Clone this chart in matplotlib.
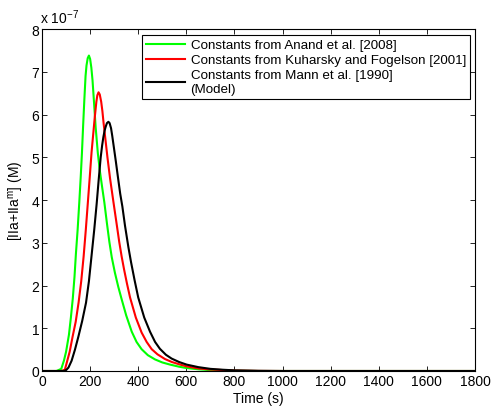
#!/usr/bin/env python3
"""Thrombin concentration time courses for three rate-constant sets."""

import matplotlib

matplotlib.use("Agg")
import matplotlib.pyplot as plt
from matplotlib.ticker import FuncFormatter

plt.rcParams["font.family"] = ["Liberation Sans", "DejaVu Sans"]
plt.rcParams["mathtext.fontset"] = "custom"
plt.rcParams["mathtext.rm"] = "Liberation Sans"
plt.rcParams["mathtext.it"] = "Liberation Sans:italic"

# values, concentration in units of 1e-7 M
anand_t = [0, 60, 80, 91, 100, 112, 120, 128, 135, 141, 148, 155, 161, 166, 171, 176,
           181, 185, 190, 195, 200, 205, 210, 216, 223, 232, 240, 250, 259, 270, 280,
           290, 303, 317, 331, 350, 373, 393, 414, 440, 470, 500, 532, 570, 600, 650,
           700, 800, 900, 1800]
anand_v = [0, 0, 0.05, 0.24, 0.45, 0.85, 1.25, 1.7, 2.2, 2.75, 3.3, 3.95, 4.55, 5.1,
           5.75, 6.35, 6.9, 7.15, 7.32, 7.38, 7.3, 7.1, 6.8, 6.3, 5.7, 5.1, 4.7, 4.3,
           3.95, 3.45, 3.02, 2.66, 2.3, 1.97, 1.68, 1.3, 0.92, 0.68, 0.51, 0.37, 0.27,
           0.2, 0.15, 0.1, 0.07, 0.04, 0.02, 0.005, 0, 0]

kuharsky_t = [0, 80, 95, 105, 115, 127, 140, 152, 163, 173, 182, 190, 198, 206, 213,
              219, 226, 230, 235, 240, 246, 251, 256, 264, 272, 283, 297, 310, 321,
              331, 341, 353, 366, 390, 414, 435, 456, 480, 511, 540, 574, 600, 650,
              700, 800, 900, 1000, 1800]
kuharsky_v = [0, 0, 0.03, 0.24, 0.45, 0.8, 1.15, 1.6, 2.1, 2.68, 3.3, 3.9, 4.5, 5.12,
              5.55, 5.92, 6.3, 6.45, 6.52, 6.47, 6.3, 6.08, 5.8, 5.4, 5.0, 4.5, 3.95,
              3.45, 3.02, 2.68, 2.38, 2.05, 1.72, 1.25, 0.9, 0.68, 0.51, 0.39, 0.28,
              0.21, 0.15, 0.11, 0.06, 0.035, 0.01, 0.002, 0, 0]

mann_t = [0, 90, 100, 110, 123, 137, 151, 167, 183, 195, 206, 217, 227, 236, 244, 250,
          255, 260, 265, 270, 276, 281, 287, 292, 299, 307, 316, 325, 334, 345, 359,
          370, 385, 400, 425, 449, 470, 490, 515, 539, 570, 601, 650, 700, 750, 800,
          900, 1000, 1800]
mann_v = [0, 0, 0.02, 0.08, 0.24, 0.5, 0.8, 1.17, 1.6, 2.1, 2.7, 3.3, 3.9, 4.5, 5.0,
          5.28, 5.47, 5.62, 5.72, 5.8, 5.83, 5.8, 5.68, 5.5, 5.22, 4.9, 4.52, 4.15,
          3.85, 3.4, 2.9, 2.55, 2.12, 1.72, 1.25, 0.92, 0.68, 0.52, 0.38, 0.29, 0.21,
          0.15, 0.09, 0.05, 0.03, 0.015, 0.004, 0, 0]

labels = [
    "Constants from Anand et al. [2008]",
    "Constants from Kuharsky and Fogelson [2001]",
    "Constants from Mann et al. [1990]\n(Model)",
]
colors = ["#00ff00", "#ff0000", "#000000"]

fig = plt.figure(figsize=(4.92, 4.10), dpi=100)
ax = fig.add_axes([0.0854, 0.0927, 0.88, 0.834])

series = [(anand_t, anand_v), (kuharsky_t, kuharsky_v), (mann_t, mann_v)]
for (t, v), label, color in zip(series, labels, colors):
    ax.plot(t, [val * 1e-7 for val in v], color=color, lw=1.5, label=label)

ax.set_xlim(0, 1800)
ax.set_ylim(0, 8e-7)
ax.set_xticks(range(0, 1801, 200))
ax.set_yticks([i * 1e-7 for i in range(9)])
ax.yaxis.set_major_formatter(FuncFormatter(lambda y, _: f"{round(y * 1e7):d}"))
ax.tick_params(direction="in", top=True, right=True, labelsize=10, length=3.5,
               width=0.6, pad=2)
for spine in ax.spines.values():
    spine.set_linewidth(0.8)

ax.text(-0.005, 1.01, r"x 10$^{-7}$", transform=ax.transAxes, fontsize=10,
        va="bottom", ha="left")
ax.set_xlabel("Time (s)", fontsize=10, labelpad=2)
ax.set_ylabel(r"[IIa+IIa$^{\mathrm{m}}$] (M)", fontsize=10, labelpad=4)

leg = ax.legend(loc="upper right", bbox_to_anchor=(0.9885, 0.9825), borderaxespad=0,
                fontsize=9.6, fancybox=False, framealpha=1, edgecolor="black",
                handlelength=2.9, handletextpad=0.45, labelspacing=0.2, borderpad=0.3)
leg.get_frame().set_linewidth(0.8)

fig.savefig("out.png", dpi=100)
